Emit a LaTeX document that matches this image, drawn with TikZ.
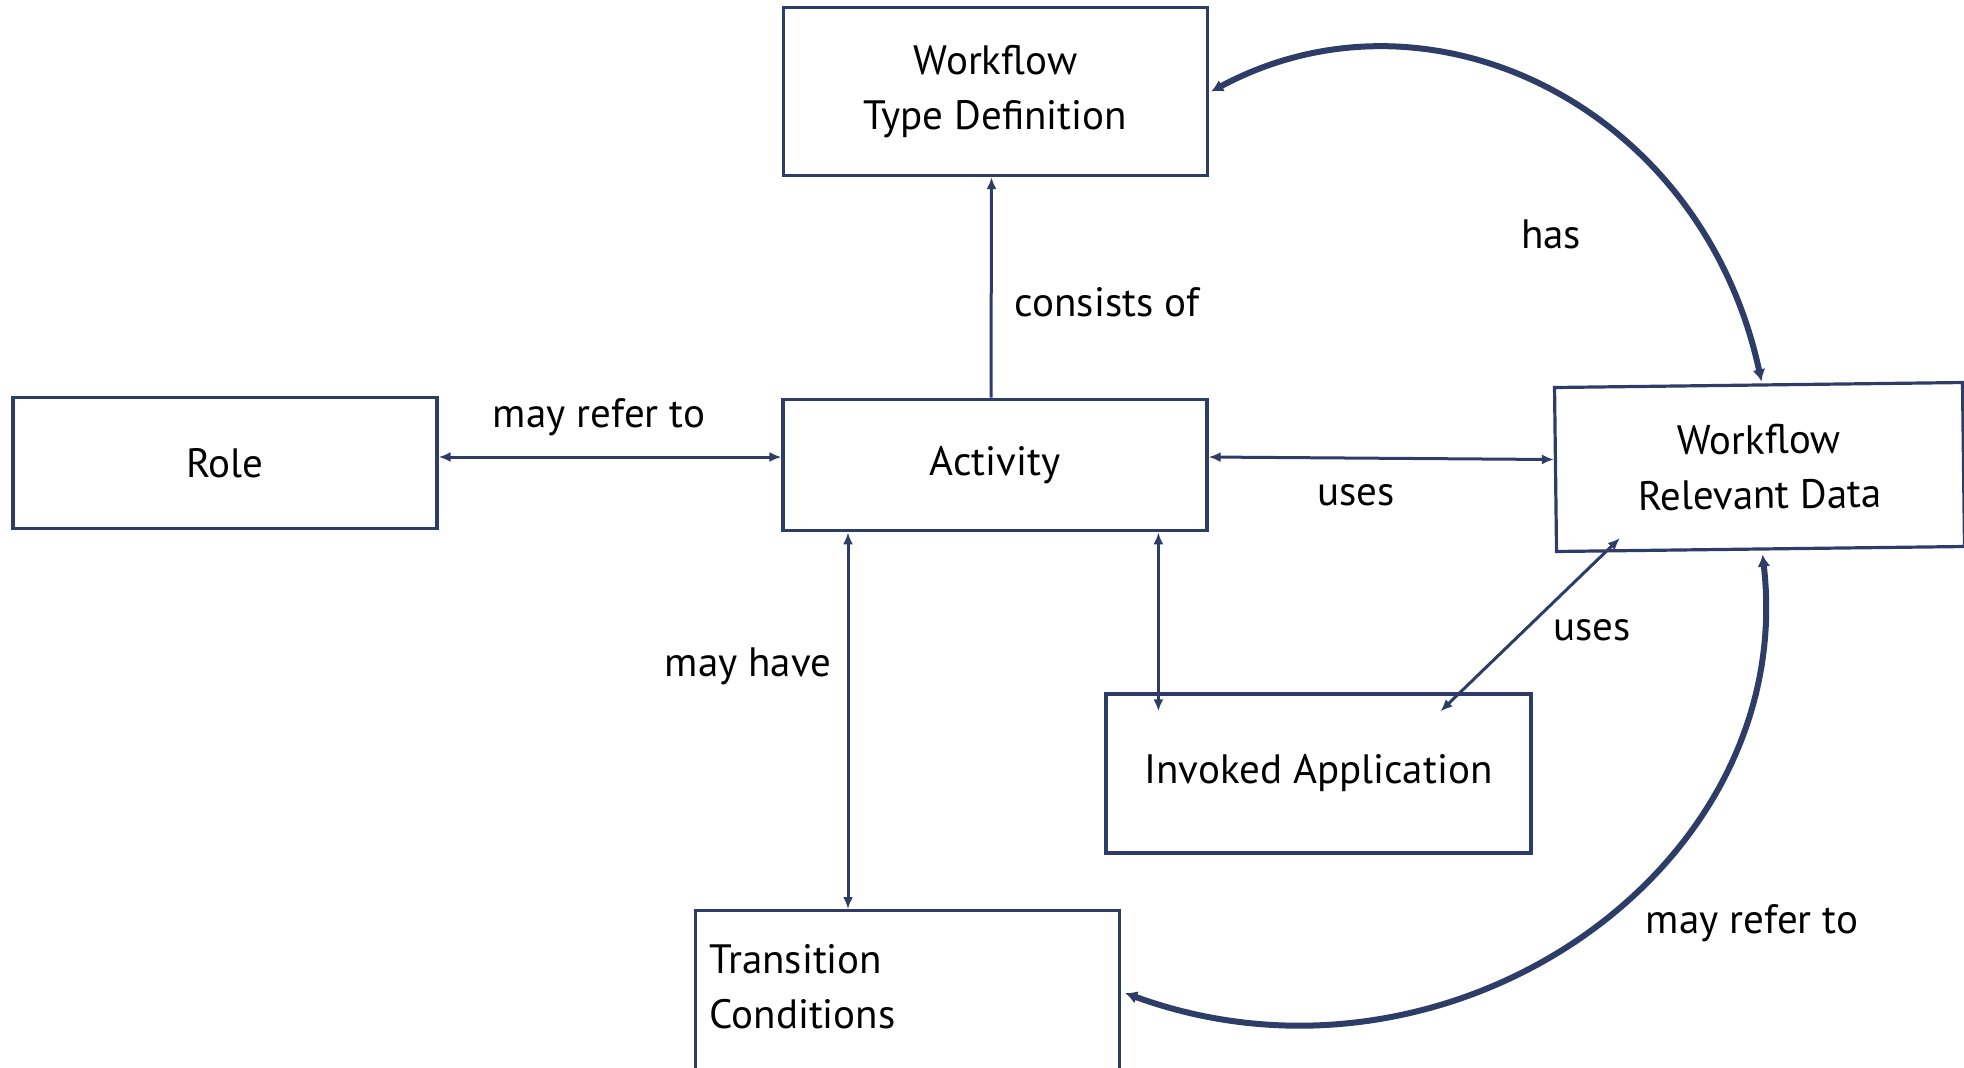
\documentclass[tikz,border=0pt]{standalone}
\usepackage{fontspec}
\setmainfont{PT Sans}
\usetikzlibrary{arrows.meta,calc}
\definecolor{navy}{RGB}{46,61,104}

\begin{document}
\begin{tikzpicture}[x=0.5pt,y=-0.5pt,
  txt/.style={font=\fontsize{20.5}{27.5}\selectfont, text=black},
  box/.style={txt, draw=navy, line width=1.6pt, inner sep=0pt, align=center},
  lbl/.style={txt, inner sep=0pt},
  conn/.style={draw=navy, line width=1.5pt, {Latex[length=6pt,width=5pt]}-{Latex[length=6pt,width=5pt]}},
  oneway/.style={draw=navy, line width=1.5pt, -{Latex[length=6pt,width=5pt]}},
  bigarc/.style={draw=navy, line width=3pt, {Latex[length=6pt,width=6.5pt]}-{Latex[length=6pt,width=6.5pt]}}]

\useasboundingbox (0,0) rectangle (1964,1067);

% entities
\node[box, minimum width=212pt, minimum height=84pt] (wtd) at (995.5,91.5) {Workflow\\Type Definition};
\node[box, minimum width=212pt, minimum height=65.75pt] (role) at (225,463) {Role};
\node[box, minimum width=212pt, minimum height=65.75pt] (act) at (995,465) {Activity};
\node[box, minimum width=204pt, minimum height=82pt, rotate=0.7] (wrd) at (1759.5,467) {Workflow\\Relevant Data};
\node[box, minimum width=212.5pt, minimum height=79.5pt] (inv) at (1318.5,773.5) {Invoked Application};
\node[box, anchor=north west, align=left, text width=198pt, inner xsep=7pt,
      text height=31.5pt, text depth=54pt] (trans) at (694,909) {Transition\\Conditions};

% relations
\draw[oneway] ([xshift=-2pt]act.north) -- ([xshift=-2pt]wtd.south);
\draw[conn] ([yshift=3pt]role.east) -- ([yshift=4pt]act.west);
\draw[conn] ([yshift=4pt]act.east) -- ([yshift=5pt]wrd.west);
\draw[conn] ([xshift=-73.5pt]act.south) -- ([xshift=-73.5pt]act.south |- trans.north);
\draw[conn] ($(inv.north west |- act.south)+(54,0)$) -- ($(inv.north west)+(54,19)$);
\draw[conn] ($(wrd.south west)+(65,-15)$) -- ($(inv.north west)+(336,19)$);
\draw[bigarc] ([xshift=1pt]wtd.east) .. controls (1430,-26) and (1702,106) .. ([xshift=1.5pt,yshift=1pt]wrd.north);
\draw[bigarc] ([xshift=1pt,yshift=-2pt]wrd.south) .. controls (1799,870) and (1449,1111) .. ([xshift=2pt,yshift=1.5pt]trans.east);

% relation names
\node[lbl] (lconsists) at (1107,302) {consists of};
\node[lbl] (lreferrole) at (599,417) {may refer to};
\node[lbl] (lusesdata) at (1356,495) {uses};
\node[lbl] (lhas) at (1551,234) {has};
\node[lbl] (lmayhave) at (748,666) {may have};
\node[lbl] (lusesapp) at (1592,630) {uses};
\node[lbl] (lrefercond) at (1752,923) {may refer to};
\end{tikzpicture}
\end{document}
